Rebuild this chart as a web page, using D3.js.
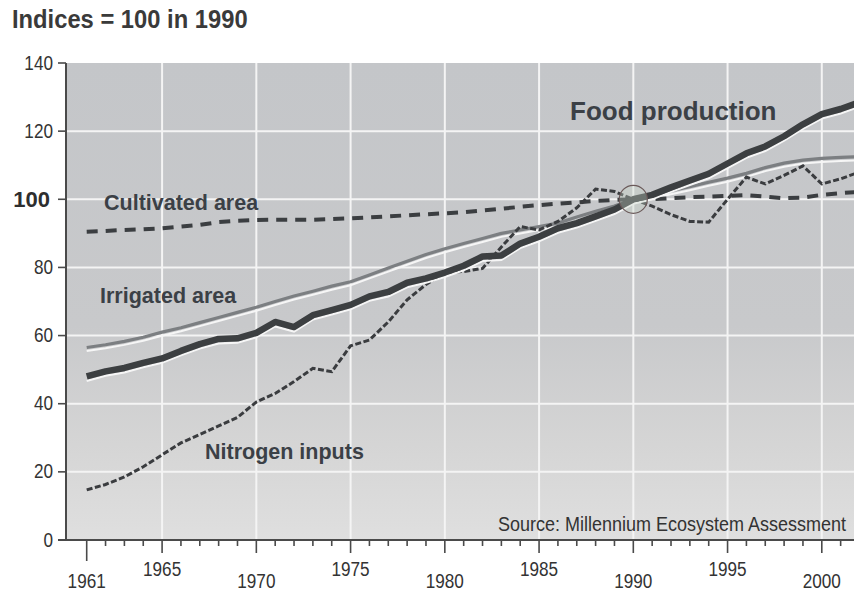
<!DOCTYPE html>
<html><head><meta charset="utf-8">
<script src="https://cdn.jsdelivr.net/npm/d3@7"></script>
<style>body{margin:0;background:#fff;}svg{display:block;}</style>
</head><body>
<svg id="c" width="854" height="591"></svg>
<script>
const years = d3.range(1961, 2003);
const food = [48,49.5,50.5,52,53.3,55.5,57.5,59,59.2,60.8,64,62.5,66,67.5,69,71.5,72.8,75.5,76.8,78.5,80.5,83.2,83.5,87,89,91.5,93,95,97,100,101.3,103.5,105.5,107.5,110.5,113.5,115.5,118.5,122,125,126.5,128.5];
const irrigated = [56.5,57.3,58.3,59.5,61,62.3,63.8,65.3,66.8,68.3,70,71.6,73,74.5,75.8,77.8,79.8,81.8,83.8,85.5,87,88.5,90,91,92,93,94.8,96.5,98,100,101.3,102.5,103.7,105,106.2,107.6,109.3,110.6,111.5,112,112.3,112.5];
const cultivated = [90.5,90.7,91,91.2,91.5,92,92.5,93.3,93.7,93.9,94,94,94,94.2,94.4,94.7,95,95.3,95.6,95.9,96.2,96.7,97.2,97.8,98.3,98.7,99.1,99.5,99.8,100,100,100.3,100.6,100.8,101,101.2,100.8,100.3,100.5,101.3,101.8,102.2];
const nitrogen = [14.7,16.3,18.5,21.5,25,28.5,31,33.5,36,40.5,43,46.5,50.4,49.4,57,58.7,64,70.5,75,78.5,78.8,79.7,86,92,91,93.5,97.5,103,102.3,100,98,95.5,93.5,93.3,100,106.5,104.5,107,109.8,104.5,106,108];
const yTicks = [0,20,40,60,80,100,120,140];
const xMajor = [1961,1965,1970,1975,1980,1985,1990,1995,2000];
const xGrid = [1965,1970,1975,1980,1985,1990,1995,2000,2005];

const svg = d3.select("#c");
const x = d3.scaleLinear().domain([1961, 2000]).range([86.7, 821.8]);
const y = d3.scaleLinear().domain([0, 140]).range([540, 63]);
const font = "'Liberation Sans',Arial,sans-serif";

// background
const defs = svg.append("defs");
const g0 = defs.append("linearGradient").attr("id","bg").attr("x1",0).attr("y1",0).attr("x2",0).attr("y2",1);
g0.append("stop").attr("offset","0%").attr("stop-color","#c4c6c9");
g0.append("stop").attr("offset","55%").attr("stop-color","#c8c9cb");
g0.append("stop").attr("offset","80%").attr("stop-color","#d5d5d5");
g0.append("stop").attr("offset","100%").attr("stop-color","#dfdfdf");
svg.append("rect").attr("x", 66).attr("y", y(140)).attr("width", 854-66).attr("height", y(0)-y(140)).attr("fill","url(#bg)");

// grid
svg.append("g").selectAll("line").data(yTicks.filter(d=>d>0 && d<140)).join("line")
  .attr("x1",66).attr("x2",854).attr("y1",d=>y(d)).attr("y2",d=>y(d))
  .attr("stroke","#f4f4f4").attr("stroke-width",2);
svg.append("g").selectAll("line").data(xGrid).join("line")
  .attr("x1",d=>x(d)).attr("x2",d=>x(d)).attr("y1",y(140)).attr("y2",y(0))
  .attr("stroke","#f4f4f4").attr("stroke-width",2);

const line = arr => d3.line().x((d,i)=>x(years[i])).y(d=>y(d))(arr);

// irrigated
svg.append("path").attr("d", line(irrigated)).attr("fill","none").attr("stroke","#f6f6f6").attr("stroke-width",2).attr("transform","translate(0,3.5)");
svg.append("path").attr("d", line(irrigated)).attr("fill","none").attr("stroke","#7c7f82").attr("stroke-width",3.2).attr("stroke-linejoin","round");
// cultivated
svg.append("path").attr("d", line(cultivated)).attr("fill","none").attr("stroke","#3b3e41").attr("stroke-width",4).attr("stroke-dasharray","11,8");
// nitrogen
svg.append("path").attr("d", line(nitrogen)).attr("fill","none").attr("stroke","#3a3c3f").attr("stroke-width",3).attr("stroke-dasharray","6,2.5");
// food
svg.append("path").attr("d", line(food)).attr("fill","none").attr("stroke","#f6f6f6").attr("stroke-width",2).attr("transform","translate(0,4.5)");
svg.append("path").attr("d", line(food)).attr("fill","none").attr("stroke","#3c3f41").attr("stroke-width",6.5).attr("stroke-linejoin","round");

// circle at 1990
svg.append("circle").attr("cx", x(1990)).attr("cy", y(100)).attr("r", 14)
  .attr("fill","#c8d8c8").attr("fill-opacity",0.35).attr("stroke","#6b5a5a").attr("stroke-width",1.2);

// axes
svg.append("line").attr("x1",66).attr("x2",66).attr("y1",y(140)).attr("y2",y(0)).attr("stroke","#4a4a4a").attr("stroke-width",2);
svg.append("line").attr("x1",58).attr("x2",854).attr("y1",y(0)).attr("y2",y(0)).attr("stroke","#4a4a4a").attr("stroke-width",2);
svg.append("g").selectAll("line").data(yTicks).join("line")
  .attr("x1",58).attr("x2",66).attr("y1",d=>y(d)).attr("y2",d=>y(d)).attr("stroke","#4a4a4a").attr("stroke-width",1.6);

// narrow-looking text helper
function ntext(g, t, xx, yy, fs, anchor, sx, weight, fill) {
  return g.append("text").attr("transform", `translate(${xx},${yy}) scale(${sx},1)`)
    .attr("text-anchor", anchor).attr("font-family", font).attr("font-size", fs)
    .attr("font-weight", weight || "normal").attr("fill", fill || "#333").text(t);
}
const gy = svg.append("g");
yTicks.forEach(d => {
  if (d === 100) ntext(gy, d, 50, y(d)+7.5, "22px", "end", 1, "bold", "#2e2e2e");
  else ntext(gy, d, 53, y(d)+6.5, "19.5px", "end", 0.88);
});

// x ticks
const allYears = d3.range(1961, 2003);
svg.append("g").selectAll("line").data(allYears).join("line")
  .attr("x1",d=>x(d)).attr("x2",d=>x(d)).attr("y1",y(0))
  .attr("y2",d=>d===1961?561:(xMajor.includes(d)?553:546))
  .attr("stroke","#4a4a4a").attr("stroke-width",1.6);
const gx = svg.append("g");
xMajor.forEach((d,i) => ntext(gx, d, x(d), i%2===0?588:576, "19.5px", "middle", 0.88));

// title
ntext(svg, "Indices = 100 in 1990", 12, 28, "25px", "start", 0.95, "bold", "#3a3a3a");

// series labels
const lab = (t,xx,yy,fs) => svg.append("text").attr("x",xx).attr("y",yy).attr("font-family",font)
  .attr("font-weight","bold").attr("font-size",fs).attr("fill","#3b4046").text(t);
lab("Food production",570,120,"26px");
lab("Cultivated area",104,210,"21.5px");
lab("Irrigated area",100,303,"21.5px");
lab("Nitrogen inputs",205,459,"21.5px");
ntext(svg, "Source: Millennium Ecosystem Assessment", 846, 531, "20px", "end", 0.9);
</script>
</body></html>
